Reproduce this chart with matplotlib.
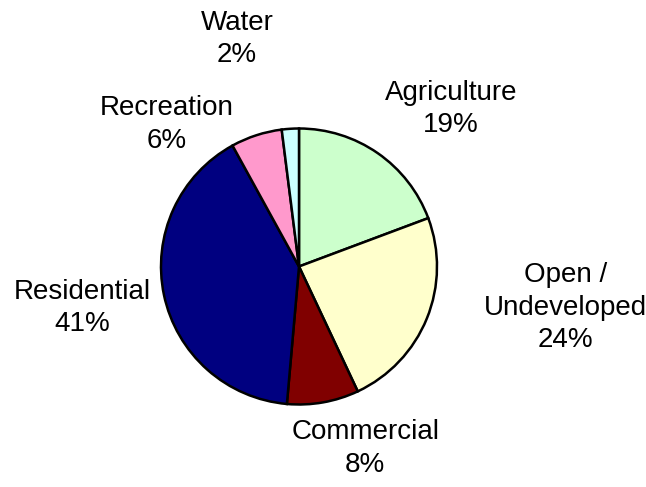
import matplotlib
matplotlib.use("Agg")
import matplotlib.pyplot as plt

# land use shares (%), clockwise from 12 o'clock
categories = ["Agriculture", "Open /\nUndeveloped", "Commercial", "Residential", "Recreation", "Water"]
shares = [19.3, 23.7, 8.4, 40.6, 6.0, 2.0]
colors = ["#CCFFCC", "#FFFFCC", "#800000", "#000080", "#FF99CC", "#CCFFFF"]

# label placement (data units, pie radius = 1)
label_pos = [(1.10, 1.14), (1.93, -0.30), (0.48, -1.32), (-1.57, -0.30), (-0.96, 1.03), (-0.45, 1.65)]

plt.rcParams["font.family"] = ["Liberation Sans", "DejaVu Sans"]

fig = plt.figure(figsize=(6.46, 4.87), dpi=100)
ax = fig.add_axes([0, 0, 1, 1])

wedges, _ = ax.pie(shares, colors=colors, startangle=90, counterclock=False,
                   radius=1.0, wedgeprops=dict(edgecolor="black", linewidth=1.8))

total = sum(shares)
for name, val, (x, y) in zip(categories, shares, label_pos):
    ax.text(x, y, f"{name}\n{round(val / total * 100):.0f}%", ha="center", va="center",
            fontsize=20, multialignment="center", linespacing=1.32)

# map pie to pixel layout: centre (299, 266.5), radius 138 px
r = 138.0
ax.set_xlim(-299 / r, (646 - 299) / r)
ax.set_ylim(-(487 - 266.5) / r, 266.5 / r)
ax.set_aspect("auto")
ax.axis("off")

fig.savefig("out.png", dpi=100)
